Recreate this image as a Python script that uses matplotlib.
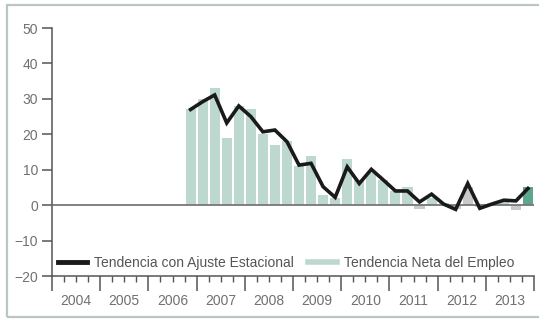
import numpy as np
import matplotlib
matplotlib.use("Agg")
import matplotlib.pyplot as plt
from matplotlib.lines import Line2D
from matplotlib.patches import Rectangle

plt.rcParams["font.family"] = ["Liberation Sans", "DejaVu Sans"]

# quarterly data, 2006 Q4 .. 2013 Q4
quarters = ["2006Q4",
            "2007Q1", "2007Q2", "2007Q3", "2007Q4",
            "2008Q1", "2008Q2", "2008Q3", "2008Q4",
            "2009Q1", "2009Q2", "2009Q3", "2009Q4",
            "2010Q1", "2010Q2", "2010Q3", "2010Q4",
            "2011Q1", "2011Q2", "2011Q3", "2011Q4",
            "2012Q1", "2012Q2", "2012Q3", "2012Q4",
            "2013Q1", "2013Q2", "2013Q3", "2013Q4"]
neta = [27, 30, 33, 19, 28, 27, 20, 17, 18, 11, 14, 3, 2, 13, 7,
        9, 7, 4, 5, -1, 2, 0.5, -1, 5, -0.5, 0.5, 1, -1.5, 5]
ajuste = [27, 29.2, 31.1, 23.2, 28, 25, 20.7, 21.2, 17.9, 11.3, 11.8, 5.2, 2.2, 10.8, 6.1,
          10.1, 7.1, 4.0, 4.0, 0.9, 3.1, 0.3, -1.2, 6.1, -0.9, 0.3, 1.4, 1.2, 4.7]
years = list(range(2004, 2014))

# x position = middle of each quarter
xq = np.array([int(q[:4]) + (int(q[5]) - 1) / 4 + 0.125 for q in quarters])

teal = "#bcd8cf"
gray = "#c9cbca"
dark = "#5ea68c"
bar_colors = []
for i, v in enumerate(neta):
    if i == len(neta) - 1:
        bar_colors.append(dark)
    elif v < 0 or quarters[i] == "2012Q3":
        bar_colors.append(gray)
    else:
        bar_colors.append(teal)

fig = plt.figure(figsize=(5.39, 3.2), dpi=100)
ax = fig.add_axes([52 / 539, 1 - 276 / 320, 482 / 539, 248 / 320])

ax.bar(xq, neta, width=0.21, color=bar_colors, zorder=2)
ax.axhline(0, color="#777777", lw=1.3, zorder=3)
ax.plot(xq, ajuste, color="#1a1a1a", lw=2.6, solid_joinstyle="miter", zorder=4)

ax.set_xlim(2004, 2014)
ax.set_ylim(-20, 50)
ax.set_yticks(range(-20, 51, 10))
ax.set_xticks(range(2004, 2015))
ax.set_xticks(np.arange(2004, 2014, 0.25), minor=True)
ax.set_xticklabels([])

for s in ["top", "right"]:
    ax.spines[s].set_visible(False)
for s in ["left", "bottom"]:
    ax.spines[s].set_color("#555555")
    ax.spines[s].set_linewidth(1.1)

ax.tick_params(axis="y", direction="out", length=7, width=1.1, color="#555555",
               labelsize=10, labelcolor="#707070", pad=3)
ax.tick_params(axis="x", which="major", direction="out", length=11, width=1.1,
               color="#555555")
ax.tick_params(axis="x", which="minor", direction="out", length=4, width=1.0,
               color="#555555")

for y in years:
    ax.text(y + 0.5, -0.1, str(y), transform=ax.get_xaxis_transform(),
            ha="center", va="center", fontsize=10, color="#707070")

handles = [Line2D([], [], color="#1a1a1a", lw=3.5),
           Line2D([], [], color=teal, lw=4)]
labels = ["Tendencia con Ajuste Estacional", "Tendencia Neta del Empleo"]
ax.legend(handles, labels, loc="lower left", bbox_to_anchor=(0.0, 0.0), ncol=2,
          frameon=False, fontsize=10, labelcolor="#555555", handlelength=2.1,
          handletextpad=0.5, columnspacing=1.0, borderaxespad=0.15, borderpad=0.3)

fig.patches.append(Rectangle((7 / 539, 3 / 320), 1.0, 312 / 320,
                             transform=fig.transFigure, fill=False,
                             edgecolor="#b9c6c1", lw=1.6))

fig.savefig("out.png", dpi=100)
